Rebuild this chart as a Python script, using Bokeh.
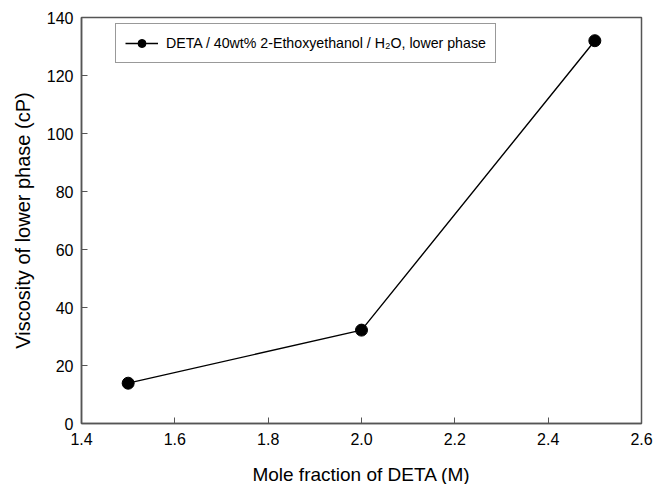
from bokeh.plotting import figure
from bokeh.models import Range1d, FixedTicker, NumeralTickFormatter, Legend, LegendItem
from bokeh.embed import file_html
from bokeh.resources import INLINE

mole_fraction = [1.5, 2.0, 2.5]
viscosity = [13.9, 32.2, 132.0]
x_ticks = [1.4, 1.6, 1.8, 2.0, 2.2, 2.4, 2.6]
y_ticks = [0, 20, 40, 60, 80, 100, 120, 140]
series_label = "DETA / 40wt% 2-Ethoxyethanol / H\u2082O, lower phase"

FONT = "Liberation Sans"

p = figure(width=667, height=484, output_backend="svg", toolbar_location=None,
           x_range=Range1d(1.4, 2.6), y_range=Range1d(0, 140),
           min_border_left=81, min_border_right=26, min_border_top=17, min_border_bottom=61)
p.frame_width = 560
p.frame_height = 406
p.xgrid.visible = False
p.ygrid.visible = False
p.outline_line_color = "#555555"
p.outline_line_width = 1.5
p.background_fill_color = "white"
p.border_fill_color = "white"

p.xaxis.ticker = FixedTicker(ticks=x_ticks)
p.yaxis.ticker = FixedTicker(ticks=y_ticks)
p.xaxis.formatter = NumeralTickFormatter(format="0.0")
p.yaxis.formatter = NumeralTickFormatter(format="0")
for ax in (p.xaxis[0], p.yaxis[0]):
    ax.axis_line_color = "#555555"
    ax.axis_line_width = 1.5
    ax.major_tick_line_color = "#555555"
    ax.major_tick_in = 6
    ax.major_tick_out = 0
    ax.minor_tick_line_color = None
    ax.major_label_text_font = FONT
    ax.major_label_text_font_size = "16px"
    ax.major_label_text_color = "#000000"
    ax.axis_label_text_font = FONT
    ax.axis_label_text_font_style = "normal"
    ax.axis_label_text_color = "#000000"
p.xaxis.axis_label = "Mole fraction of DETA (M)"
p.yaxis.axis_label = "Viscosity of lower phase (cP)"
p.xaxis.axis_label_text_font_size = "19px"
p.yaxis.axis_label_text_font_size = "20px"
p.xaxis.major_label_standoff = 9
p.xaxis.axis_label_standoff = 16
p.yaxis.major_label_standoff = 8
p.yaxis.axis_label_standoff = 10

ln = p.line(mole_fraction, viscosity, line_color="black", line_width=1.4)
sc = p.scatter(mole_fraction, viscosity, size=12, fill_color="black", line_color="black")

legend = Legend(items=[LegendItem(label=series_label, renderers=[ln, sc])],
                location=(34, 360))
legend.label_text_font = FONT
legend.label_text_font_size = "14.2px"
legend.label_text_color = "#000000"
legend.glyph_width = 33
legend.glyph_height = 20
legend.label_standoff = 8
legend.padding = 9
legend.spacing = 0
legend.border_line_color = "#333333"
legend.border_line_width = 1
legend.background_fill_alpha = 1
legend.margin = 0
p.add_layout(legend)

open("out.html", "w").write(file_html(p, INLINE))
